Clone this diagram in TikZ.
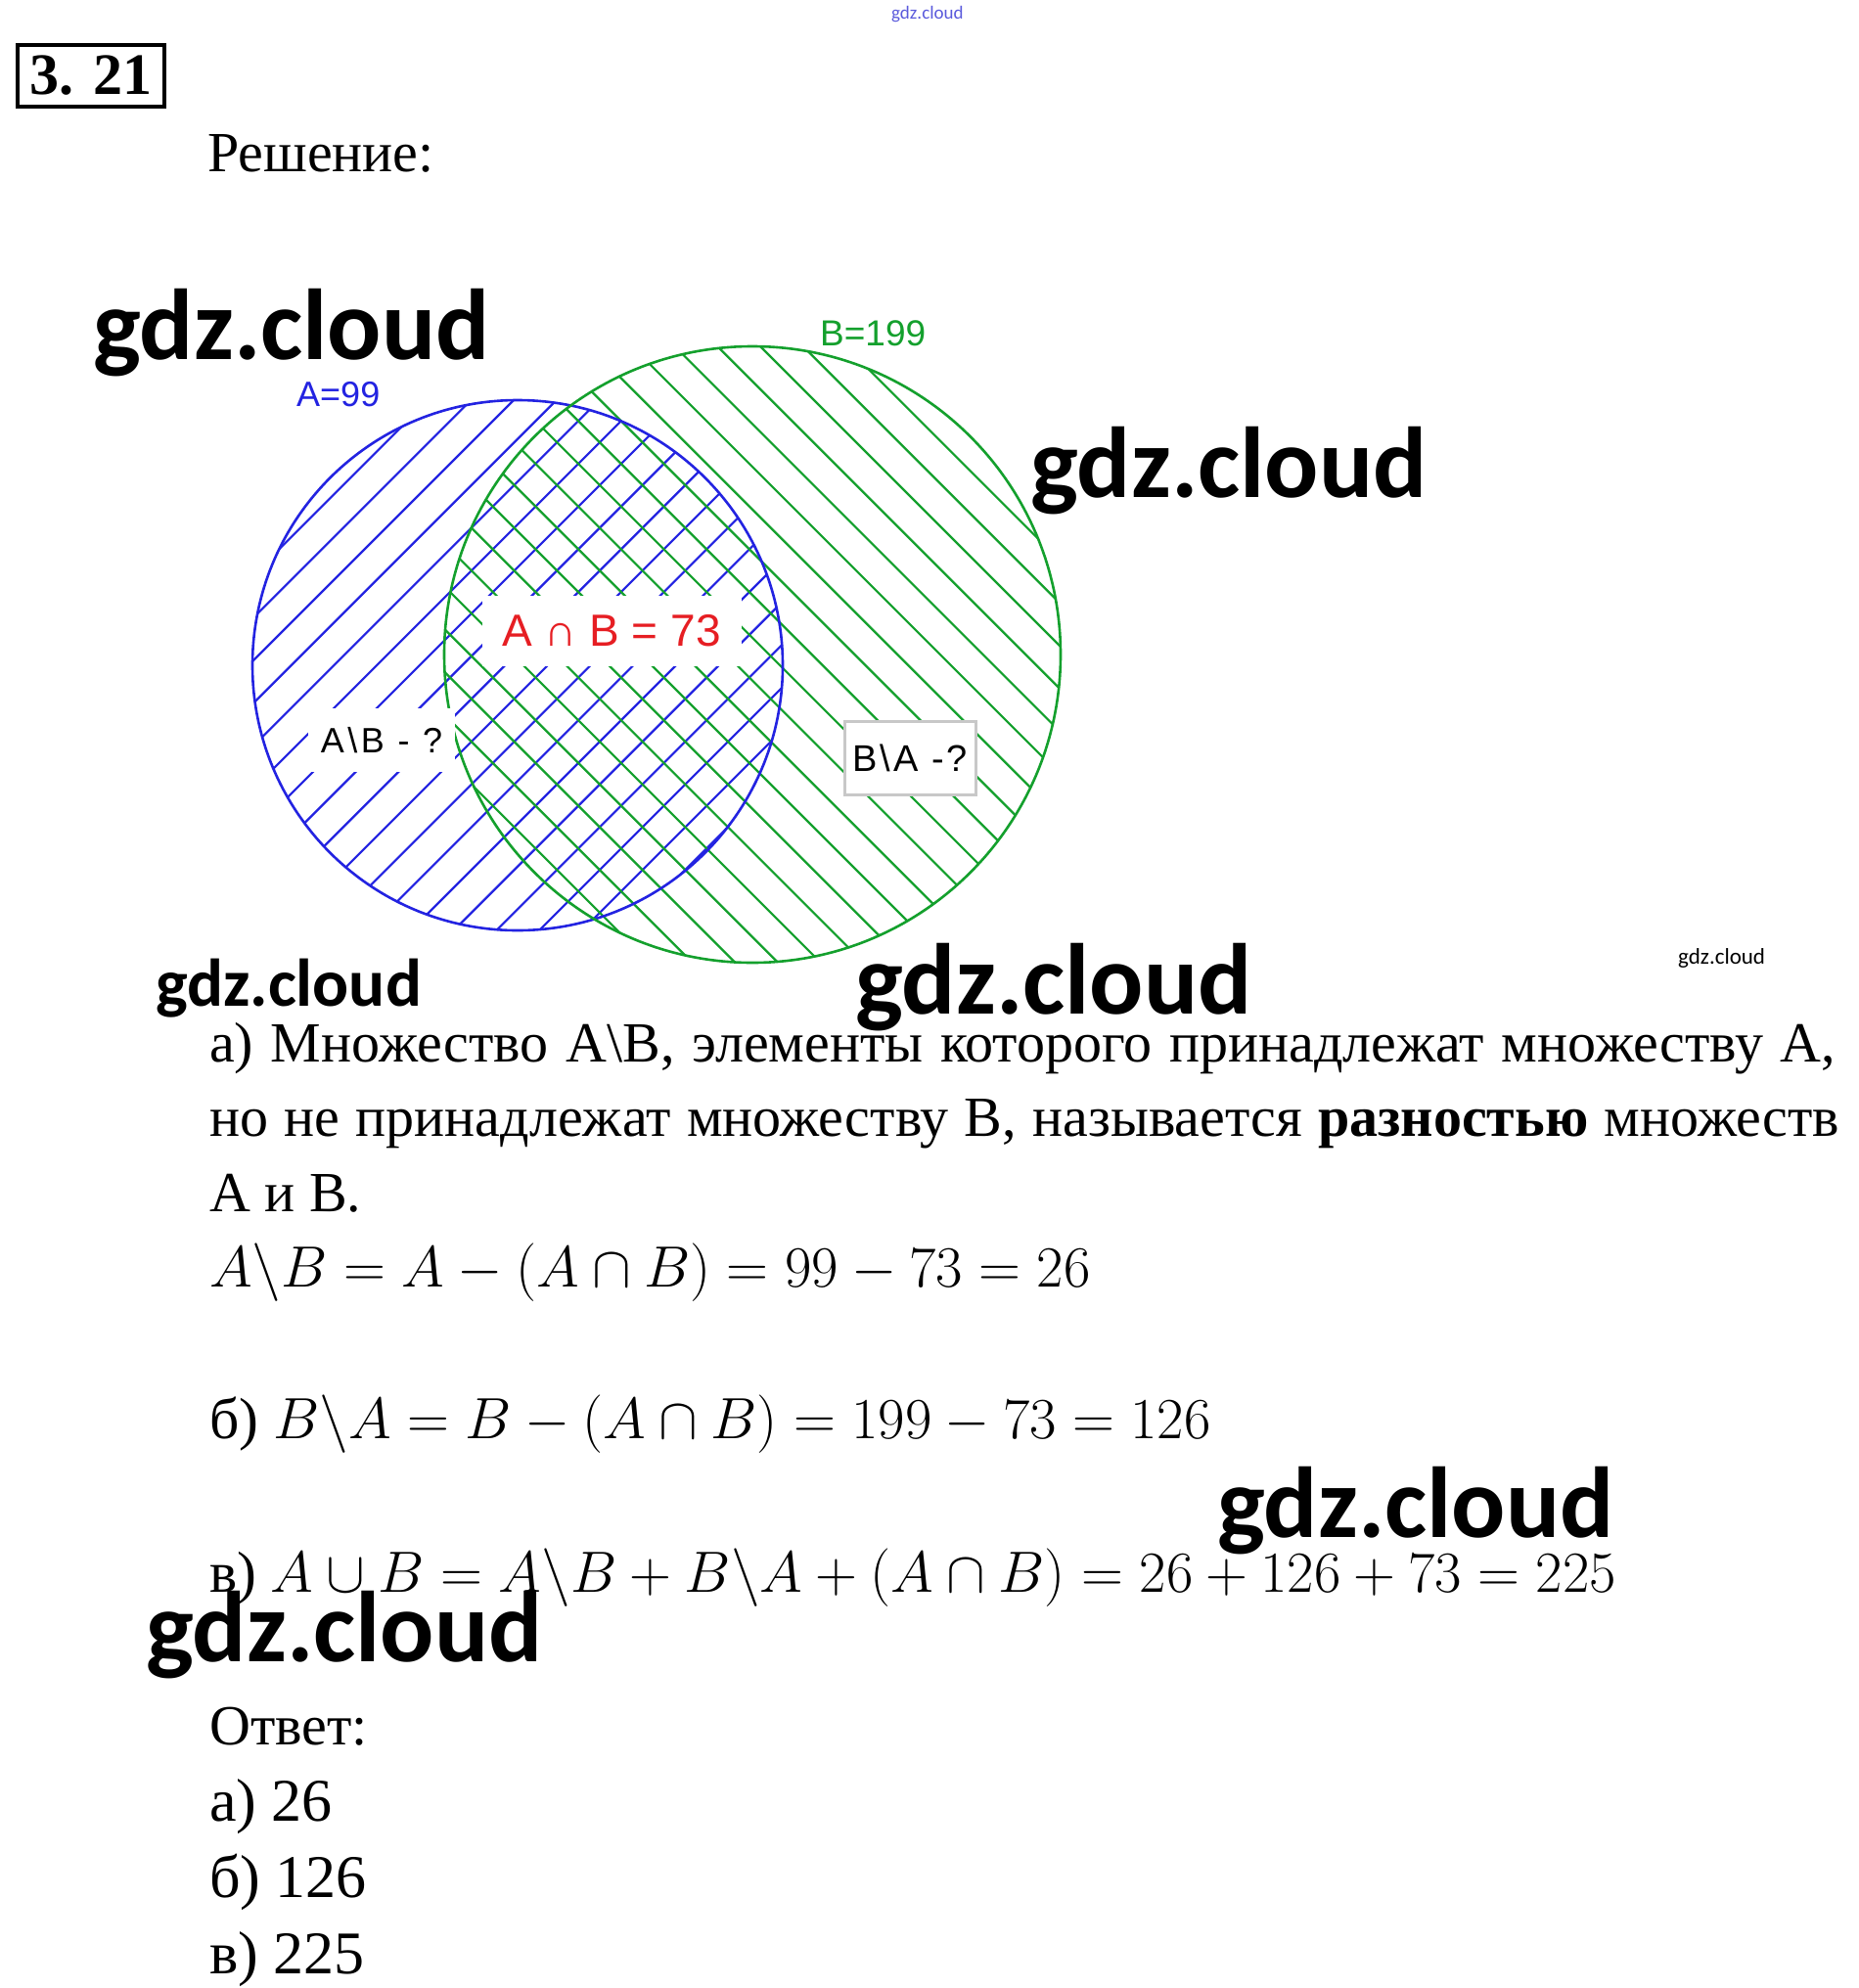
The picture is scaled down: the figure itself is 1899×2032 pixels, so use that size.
\RequirePackage{fix-cm}
\documentclass[tikz,border=0pt]{standalone}
\usepackage{fontspec}
\setmainfont{Liberation Serif}
\newfontfamily\arialf{Liberation Sans}
\newfontfamily\wmf{Carlito}
\definecolor{bluec}{RGB}{35,35,225}
\definecolor{greenc}{RGB}{20,160,45}
\definecolor{redc}{RGB}{230,30,35}
\definecolor{grayc}{RGB}{200,200,200}
\definecolor{wmblue}{RGB}{90,90,220}
\tikzset{
  txt/.style={anchor=base west, inner sep=0pt, font=\fontsize{58}{70}\selectfont},
  anstxt/.style={anchor=base west, inner sep=0pt, font=\fontsize{62}{70}\selectfont},
  mth/.style={anchor=base west, inner sep=0pt, font=\fontsize{59.5}{70}\selectfont},
  wm/.style={anchor=base west, inner sep=0pt, font=\wmf\bfseries\fontsize{103}{103}\selectfont},
  bluehatch/.style={draw=bluec, line width=2.2pt},
  greenhatch/.style={draw=greenc, line width=2.2pt},
  vlabel/.style={inner sep=0pt, font=\arialf\fontsize{36}{36}\selectfont},
}
\begin{document}
\begin{tikzpicture}[x=1pt,y=-1pt]
\useasboundingbox (0,0) rectangle (1899,2032);
\fill[white] (0,0) rectangle (1899,2032);

% title
\node[draw, line width=4pt, minimum width=150pt, minimum height=63pt, inner sep=0pt,
      font=\bfseries\fontsize{60}{60}\selectfont] (title) at (93,77.5) {3. 21};
\node[txt] (resh) at (212,175) {Решение:};

% hatching
\begin{scope}
  \clip (529,680) circle (271);
  \foreach \k in {-4,...,16} {
    \draw[bluehatch] ({934+43.7*\k-380},380) -- ({934+43.7*\k-980},980);
  }
\end{scope}
\begin{scope}
  \clip (769,669) circle (315);
  \foreach \k in {-19,...,4} {
    \draw[greenhatch] ({423+43.7*\k+330},330) -- ({423+43.7*\k+1010},1010);
  }
\end{scope}
\draw[draw=bluec, line width=2.6pt] (529,680) circle (271);
\draw[draw=greenc, line width=2.6pt] (769,669) circle (315);

% labels
\node[vlabel, text=bluec, anchor=base west] (alab) at (303,415) {A=99};
\node[vlabel, text=greenc, anchor=base west, font=\arialf\fontsize{37}{37}\selectfont] (blab) at (838,353) {B=199};
\node[fill=white, minimum width=265pt, minimum height=72pt, inner sep=0pt, text=redc,
      font=\arialf\fontsize{46}{46}\selectfont] (ablab) at (625,645) {A ∩ B = 73};
\node[fill=white, minimum width=150pt, minimum height=65pt, inner sep=0pt,
      font=\arialf\addfontfeature{LetterSpace=10}\fontsize{36}{36}\selectfont] (amb) at (390,756.5) {A\textbackslash B - ?};
\node[fill=white, draw=grayc, line width=3pt, minimum width=134pt, minimum height=75pt, inner sep=0pt,
      font=\arialf\addfontfeature{LetterSpace=8}\fontsize{38}{38}\selectfont] (bma) at (930,774.5) {B\textbackslash A -?};

% text
\node[txt] (l1) at (214,1085) {\makebox[1662pt][s]{а) Множество A\textbackslash B, элементы которого принадлежат множеству A,}};
\node[txt] (l2) at (214,1161) {\makebox[1666pt][s]{но не принадлежат множеству B, называется \textbf{разностью} множеств}};
\node[txt] (l3) at (214,1238) {A и B.};
\node[mth] (l4) at (214,1315) {$A\backslash B = A - (A\cap B) = 99 - 73 = 26$};
\node[mth] (l5) at (214,1470) {б) $B\backslash A = B - (A\cap B) = 199 - 73 = 126$};
\node[mth] (l6) at (214,1627) {в) $A\cup B = A\backslash B + B\backslash A + (A\cap B) = 26 + 126 + 73 = 225$};
\node[txt] (ans) at (214,1783) {Ответ:};
\node[anstxt] (ansa) at (214,1861) {а) 26};
\node[anstxt] (ansb) at (214,1939) {б) 126};
\node[anstxt] (ansc) at (214,2017) {в) 225};

% watermarks
\node[wm] (w1) at (95,367) {gdz.cloud};
\node[wm] (w2) at (1053,508) {gdz.cloud};
\node[wm, font=\wmf\bfseries\fontsize{69}{69}\selectfont] (w3) at (159,1028) {gdz.cloud};
\node[wm] (w4) at (874,1036) {gdz.cloud};
\node[wm, font=\wmf\fontsize{23}{23}\selectfont] (w5) at (1715,985) {gdz.cloud};
\node[wm] (w6) at (1244,1571) {gdz.cloud};
\node[wm] (w7) at (149,1698) {gdz.cloud};
\node[wm, text=wmblue, font=\wmf\fontsize{19}{19}\selectfont] (w8) at (911,19) {gdz.cloud};
\end{tikzpicture}
\end{document}
